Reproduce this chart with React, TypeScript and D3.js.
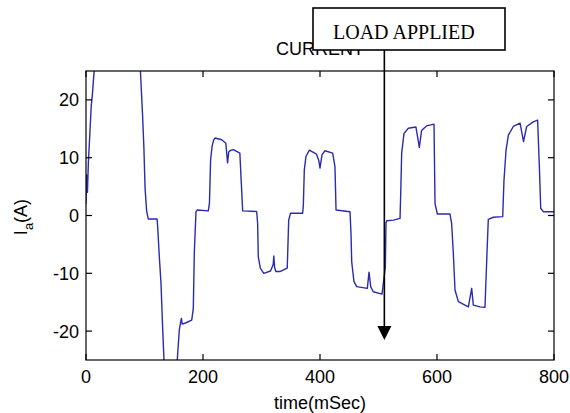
import React from "react";
import * as d3 from "d3";

const timeMs = [
  0, 1, 2.5, 4, 5.5, 7, 9, 11, 13.5, 20, 60, 88, 93, 96.7, 99, 101, 103.7, 106.5, 121.5, 122.5,
  125.3, 128.2, 130.5, 133.3, 145, 156, 159.5, 161.9, 163, 164.5, 170, 180.7, 183.4, 185.2, 188, 190.3,
  209, 211, 213, 215.4, 218, 220.5, 232, 239, 242, 244, 246, 251.8, 263, 265.5, 267.8, 291.7,
  293.4, 294.5, 298, 303.9, 315.4, 320, 321, 322.5, 324.5, 331.6, 344, 346.5, 349.6, 370.4,
  371.5, 373.2, 376, 381.8, 394, 398, 400, 403.4, 408.5, 421.7, 425.6, 427.4, 451.3, 453,
  454.2, 458, 462.7, 480.9, 483.8, 486.7, 491, 506, 511.7, 512.8, 514, 525.4, 536.8, 538,
  539.6, 543.6, 551, 564, 569.8, 573.6, 582, 594.9, 596.6, 600.6, 622.2, 625, 627.9, 630.8,
  636.5, 653.6, 659.3, 662.1, 673.5, 682, 685, 687.7, 696.2, 712.3, 714.5, 718, 722, 730.4,
  742, 747.9, 753.3, 764.6, 772, 775, 777.3, 781.8, 800,
];
const currentA = [
  2, 7, 4, 9, 12, 15, 19, 21, 24.5, 30, 38, 30, 25, 17.4, 11.6, 4.7, 0.7, -0.6, -0.6, -1.9,
  -7.1, -11.7, -18.1, -25, -30, -25, -19.8, -18.4, -17.8, -18.8, -18.6, -18.1, -16.1, -6.3, 0.66, 0.95,
  0.8, 2.1, 9.6, 11.9, 13, 13.4, 13.1, 12.5, 9.1, 11, 11.2, 11.4, 10.8, 5.6, 0.8, 0.7,
  -1.35, -7.1, -9.1, -10, -9.6, -8.5, -7, -9, -9.7, -9.7, -9.1, -0.8, 0.4, 0.4,
  1.8, 7.9, 10.2, 11.3, 10.6, 9.5, 8.2, 10.5, 11.2, 10.8, 8.4, 0.95, 0.66, -3.1,
  -8, -11.4, -12.3, -12.6, -9.8, -12.3, -13.2, -13.6, -8.9, -1.35, -0.9, -0.8, -0.5, 3.8,
  10.8, 14.2, 15.1, 15.3, 11.8, 14.7, 15.5, 15.8, 2.1, 0.26, 0.26, -1.35, -6.5, -12.9,
  -14.9, -15.8, -12.6, -15.5, -15.8, -15.9, -7.7, -0.66, -0.3, -0.2, 6.1, 11.3, 13.9, 15.4,
  16, 12.8, 15.4, 16.2, 16.5, 8.4, 1.25, 0.66, 0.66,
];
const xTicks = [0, 200, 400, 600, 800];
const yTicks = [-20, -10, 0, 10, 20];
const titleText = "CURRENT";
const xLabel = "time(mSec)";
const annotationText = "LOAD APPLIED";
const loadTime = 510;

const W = 570;
const H = 413;
const L = 86, R = 554, T = 71, B = 360;
const TICK = 6;
const font = "'Liberation Sans', Arial, Helvetica, sans-serif";

export default function App() {
  const x = d3.scaleLinear().domain([0, 800]).range([L, R]);
  const y = d3.scaleLinear().domain([-25, 25]).range([B, T]);
  const pts: [number, number][] = timeMs.map((t, i) => [t, currentA[i]]);
  const line = d3
    .line<[number, number]>()
    .x((d) => x(d[0]))
    .y((d) => y(d[1]));
  const ax = x(loadTime);
  const color = "#2b2bb0";

  return (
    <svg
      width={W}
      height={H}
      style={{ position: "absolute", left: 0, top: 0, background: "#fff" }}
    >
      <defs>
        <clipPath id="plotclip">
          <rect x={L} y={T} width={R - L} height={B - T} />
        </clipPath>
      </defs>
      <rect x={0} y={0} width={W} height={H} fill="#fff" />
      <path
        d={line(pts) || ""}
        fill="none"
        stroke={color}
        strokeWidth={1.4}
        strokeLinejoin="round"
        clipPath="url(#plotclip)"
      />
      <rect x={L} y={T} width={R - L} height={B - T} fill="none" stroke="#000" strokeWidth={1.2} />
      {xTicks.map((t) => (
        <g key={"x" + t}>
          <line x1={x(t)} x2={x(t)} y1={B} y2={B - TICK} stroke="#000" strokeWidth={1.2} />
          <line x1={x(t)} x2={x(t)} y1={T} y2={T + TICK} stroke="#000" strokeWidth={1.2} />
          <text
            x={x(t)}
            y={383}
            textAnchor="middle"
            fontFamily={font}
            fontSize={18}
            fill="#000"
          >
            {t}
          </text>
        </g>
      ))}
      {yTicks.map((v) => (
        <g key={"y" + v}>
          <line x1={L} x2={L + TICK} y1={y(v)} y2={y(v)} stroke="#000" strokeWidth={1.2} />
          <line x1={R} x2={R - TICK} y1={y(v)} y2={y(v)} stroke="#000" strokeWidth={1.2} />
          <text
            x={79}
            y={y(v) + 6.5}
            textAnchor="end"
            fontFamily={font}
            fontSize={18}
            fill="#000"
          >
            {v}
          </text>
        </g>
      ))}
      <text x={(L + R) / 2} y={55} textAnchor="middle" fontFamily={font} fontSize={18} fill="#000">
        {titleText}
      </text>
      <text
        x={(L + R) / 2}
        y={409}
        textAnchor="middle"
        fontFamily={font}
        fontSize={18}
        fill="#000"
      >
        {xLabel}
      </text>
      <text
        transform="translate(27,217) rotate(-90)"
        textAnchor="middle"
        fontFamily={font}
        fontSize={18}
        fill="#000"
      >
        <tspan>I</tspan>
        <tspan fontSize={13} dy={6}>a</tspan>
        <tspan dy={-6}>(A)</tspan>
      </text>
      {/* annotation */}
      <rect x={313} y={8} width={192} height={42} fill="#fff" stroke="#000" strokeWidth={1.6} />
      <text x={333} y={39} fontFamily="'Liberation Serif', 'Times New Roman', serif" fontSize={20} fill="#000">
        {annotationText}
      </text>
      <line x1={ax} x2={ax} y1={50} y2={328} stroke="#000" strokeWidth={1.6} />
      <polygon points={`${ax - 7},326 ${ax + 7},326 ${ax},340`} fill="#000" />
    </svg>
  );
}
